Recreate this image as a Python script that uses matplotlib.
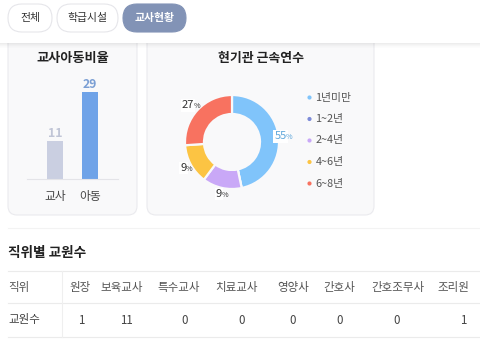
import matplotlib
matplotlib.use("Agg")
import matplotlib.pyplot as plt
from matplotlib.patches import FancyBboxPatch, Rectangle
import numpy as np

plt.rcParams['font.family'] = ['Noto Sans CJK KR', 'DejaVu Sans']

# ---------------- data ----------------
tabs = ["전체", "학급시설", "교사현황"]
active_tab = "교사현황"

ratio_title = "교사아동비율"
ratio_cats = ["교사", "아동"]
ratio_vals = [11, 29]

tenure_title = "현기관 근속연수"
tenure_cats = ["1년미만", "1~2년", "2~4년", "4~6년", "6~8년"]
tenure_labels = [55, 0, 9, 9, 27]          # printed percentages
tenure_arcs = [46.7, 0, 13.5, 13.7, 26.1]  # arc sizes as drawn in the picture

table_title = "직위별 교원수"
table_row_head = ["직위", "교원수"]
positions = ["원장", "보육교사", "특수교사", "치료교사", "영양사", "간호사", "간호조무사", "조리원"]
staff_counts = [1, 11, 0, 0, 0, 0, 0, 1]

# ---------------- layout ----------------
W, H = 480, 343
fig = plt.figure(figsize=(W / 100, H / 100), dpi=100)
fig.patch.set_facecolor("white")
ax = fig.add_axes([0, 0, 1, 1])
ax.set_xlim(0, W)
ax.set_ylim(H, 0)
ax.axis("off")

def px_axes(x0, y0, x1, y1):
    return fig.add_axes([x0 / W, 1 - y1 / H, (x1 - x0) / W, (y1 - y0) / H])

card_bg = "#F9F9FA"
card_edge = "#EAEAEE"

# cards
for (x0, x1) in [(8, 137), (147, 374)]:
    ax.add_patch(FancyBboxPatch((x0, 28), x1 - x0, 215 - 28,
                                boxstyle="round,pad=0,rounding_size=9",
                                fc=card_bg, ec=card_edge, lw=0.8, zorder=1))

# header + shadow
ax.add_patch(Rectangle((0, 0), W, 43, fc="white", ec="none", zorder=5))
for i, a in enumerate([0.07, 0.05, 0.035, 0.02, 0.01]):
    ax.add_patch(Rectangle((0, 43 + i), W, 1, fc="black", alpha=a, ec="none", zorder=5))

# tabs
tab_x = [(8, 52), (57, 118), (123, 186)]
for name, (x0, x1) in zip(tabs, tab_x):
    active = name == active_tab
    ax.add_patch(FancyBboxPatch((x0, 4), x1 - x0, 28,
                                boxstyle="round,pad=0,rounding_size=14",
                                fc="#8293B6" if active else "white",
                                ec="#8293B6" if active else "#E6E6EA", lw=0.8, zorder=6))
    ax.text((x0 + x1) / 2, 18, name, ha="center", va="center", fontsize=7.8,
            color="white" if active else "#333333",
            fontweight="bold" if active else "normal", zorder=7)

# titles
ax.text(73, 58, ratio_title, ha="center", va="center", fontsize=9.5, fontweight="bold", color="#222222", zorder=3)
ax.text(261, 58, tenure_title, ha="center", va="center", fontsize=9.3, fontweight="bold", color="#222222", zorder=3)

# ---------------- bar chart ----------------
bax = px_axes(27, 70, 118, 179.3)
bax.set_facecolor("none")
base = -3.1
xpos = np.arange(len(ratio_cats))
bar_colors = ["#CACFE1", "#6FA3E8"]
label_colors = ["#C0C5D6", "#7B9FD4"]
bax.bar(xpos, np.array(ratio_vals) - base, bottom=base, width=0.46, color=bar_colors, zorder=2)
for x, v, c in zip(xpos, ratio_vals, label_colors):
    bax.annotate(str(v), (x, v), xytext=(0, 8), textcoords="offset pixels",
                 ha="center", va="center", fontsize=8.8, fontweight="bold", color=c)
bax.set_xlim(-0.8, 1.8)
bax.set_ylim(base, 37.2)
for s in ["top", "right", "left"]:
    bax.spines[s].set_visible(False)
bax.spines["bottom"].set_color("#E4E4E8")
bax.spines["bottom"].set_linewidth(0.8)
bax.set_yticks([])
bax.set_xticks(xpos)
bax.set_xticklabels(ratio_cats, fontsize=8.5, color="#444444")
bax.tick_params(axis="x", length=0, pad=8)

# ---------------- donut ----------------
pax = px_axes(162, 72, 302, 212)
pax.set_facecolor("none")
slice_colors = ["#80C4FA", "#7D8BD8", "#C9A8F7", "#FCC443", "#F87260"]
wedges, _ = pax.pie(tenure_arcs, colors=slice_colors, startangle=90, counterclock=False,
                    radius=0.94, wedgeprops=dict(width=0.38, edgecolor=card_bg, linewidth=1.6))
pax.set_xlim(-1.4, 1.4)
pax.set_ylim(-1.4, 1.4)
pax.set_aspect("equal")
pax.axis("off")

for w, lab, i in zip(wedges, tenure_labels, range(len(tenure_labels))):
    if lab == 0:
        continue
    ang = np.deg2rad((w.theta1 + w.theta2) / 2)
    r = 1.07
    x, y = r * np.cos(ang), r * np.sin(ang)
    col = "#5DA6DA" if i == 0 else "#333333"
    pax.annotate(str(lab), (x, y), xytext=(1.5, 0), textcoords="offset pixels",
                 ha="right", va="center", fontsize=8, color=col, zorder=3,
                 bbox=dict(boxstyle="square,pad=0.1", fc="white", ec="none"))
    pax.annotate("%", (x, y), xytext=(1.0, -1), textcoords="offset pixels",
                 ha="left", va="center", fontsize=5.2, color=col, zorder=4)

# legend
leg_y0, leg_dy = 97.5, 21.5
for k, (name, c) in enumerate(zip(tenure_cats, slice_colors)):
    yy = leg_y0 + k * leg_dy
    ax.scatter([309.5], [yy], s=9, color=c, zorder=3, edgecolors="none")
    ax.text(315.5, yy, name, ha="left", va="center", fontsize=7.8, color="#555555", zorder=3)

# ---------------- table ----------------
ax.plot([8, W], [228, 228], color="#F3F3F3", lw=0.8, zorder=2)
ax.text(8, 253, table_title, ha="left", va="center", fontsize=9.8, fontweight="bold", color="#222222")
for yy in [270.7, 302.7, 337.3]:
    ax.plot([8, W], [yy, yy], color="#EBEBEB", lw=0.8)
ax.plot([62.3, 62.3], [270.7, 337.3], color="#EFEFEF", lw=0.8)
ax.text(8, 287, table_row_head[0], ha="left", va="center", fontsize=8.3, color="#555555")
ax.text(8, 320, table_row_head[1], ha="left", va="center", fontsize=8.3, color="#444444")
head_x = [80, 122, 179, 237, 293, 339, 397.5, 453]
val_x = [81, 126.5, 185, 241.5, 293, 340, 396.5, 463]
for name, hx, v, vx in zip(positions, head_x, staff_counts, val_x):
    ax.text(hx, 287, name, ha="center", va="center", fontsize=8.3, color="#555555")
    ax.text(vx, 320, str(v), ha="center", va="center", fontsize=8.3, color="#444444")

fig.savefig("out.png", dpi=100, facecolor="white")
